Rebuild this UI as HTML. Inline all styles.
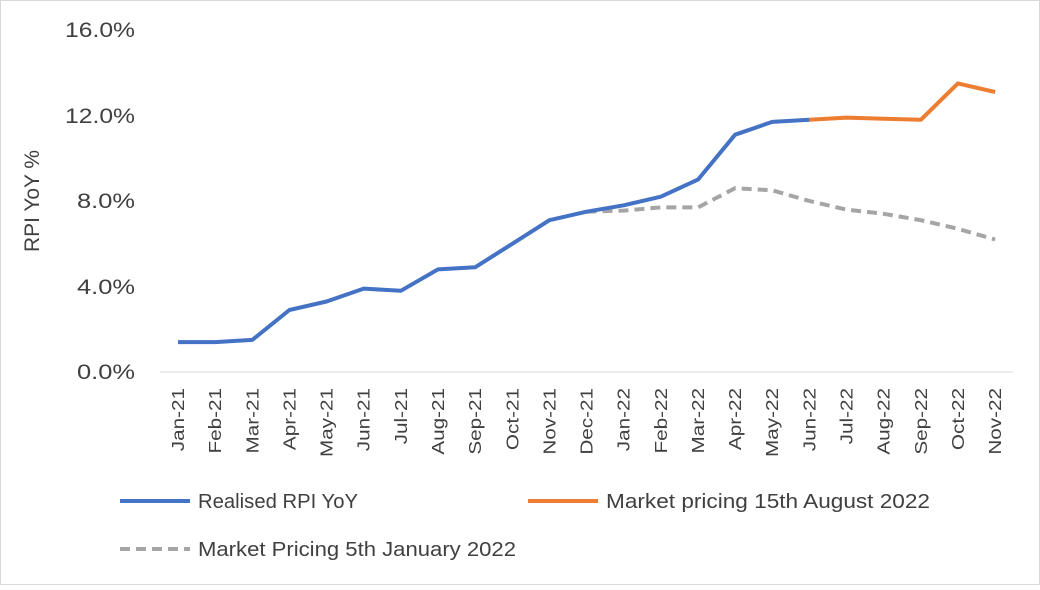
<!DOCTYPE html>
<html><head><style>
body{margin:0;background:#fff}
svg text{font-family:"Liberation Sans",sans-serif;fill:#404040}
</style></head><body>
<svg width="1040" height="585" viewBox="0 0 1040 585">
<rect x="0.5" y="0.5" width="1039" height="584" fill="#fff" stroke="#d9d9d9"/>
<g font-size="21" text-anchor="end">
<text x="135" y="37" textLength="70" lengthAdjust="spacingAndGlyphs">16.0%</text>
<text x="135" y="123" textLength="70" lengthAdjust="spacingAndGlyphs">12.0%</text>
<text x="135" y="208" textLength="58" lengthAdjust="spacingAndGlyphs">8.0%</text>
<text x="135" y="294" textLength="58" lengthAdjust="spacingAndGlyphs">4.0%</text>
<text x="135" y="379" textLength="58" lengthAdjust="spacingAndGlyphs">0.0%</text>
</g>
<text transform="translate(39,201) rotate(-90)" font-size="21" text-anchor="middle" textLength="102" lengthAdjust="spacingAndGlyphs">RPI YoY %</text>
<line x1="160" y1="372" x2="1013" y2="372" stroke="#d9d9d9" stroke-width="1"/>
<g id="xl" font-size="18" text-anchor="end"></g>
<polyline fill="none" stroke="#a5a5a5" stroke-width="4" stroke-dasharray="10,6" points="" id="g"/>
<polyline fill="none" stroke="#4472c4" stroke-width="4" stroke-linejoin="round" points="" id="b"/>
<polyline fill="none" stroke="#ed7d31" stroke-width="4" stroke-linejoin="round" points="" id="o"/>
<line x1="120" y1="501" x2="190" y2="501" stroke="#4472c4" stroke-width="4"/>
<text x="198" y="508" font-size="20" textLength="160" lengthAdjust="spacingAndGlyphs">Realised RPI YoY</text>
<line x1="528" y1="501" x2="598" y2="501" stroke="#ed7d31" stroke-width="4"/>
<text x="606" y="508" font-size="20" textLength="324" lengthAdjust="spacingAndGlyphs">Market pricing 15th August 2022</text>
<line x1="120" y1="549" x2="190" y2="549" stroke="#a5a5a5" stroke-width="4" stroke-dasharray="10,6"/>
<text x="198" y="556" font-size="20" textLength="318" lengthAdjust="spacingAndGlyphs">Market Pricing 5th January 2022</text>
</svg>
<script>
var m=["Jan-21","Feb-21","Mar-21","Apr-21","May-21","Jun-21","Jul-21","Aug-21","Sep-21","Oct-21","Nov-21","Dec-21","Jan-22","Feb-22","Mar-22","Apr-22","May-22","Jun-22","Jul-22","Aug-22","Sep-22","Oct-22","Nov-22"];
function X(i){return 178+i*37.14}function Y(v){return 372-v*21.375}
var xl=document.getElementById('xl'),s='';
m.forEach(function(t,i){var x=X(i)+6;s+='<text transform="translate('+x.toFixed(1)+',388) rotate(-90) scale(1.15,1)">'+t+'</text>';});
xl.innerHTML=s;
function pts(st,a){return a.map(function(v,k){return X(st+k).toFixed(1)+','+Y(v).toFixed(1)}).join(' ')}
document.getElementById('b').setAttribute('points',pts(0,[1.4,1.4,1.5,2.9,3.3,3.9,3.8,4.8,4.9,6.0,7.1,7.5,7.8,8.2,9.0,11.1,11.7,11.8]));
document.getElementById('o').setAttribute('points',pts(17,[11.8,11.9,11.85,11.8,13.5,13.1]));
document.getElementById('g').setAttribute('points',pts(11,[7.5,7.55,7.7,7.7,8.6,8.5,8.0,7.6,7.4,7.1,6.7,6.2]));
</script>
</body></html>
